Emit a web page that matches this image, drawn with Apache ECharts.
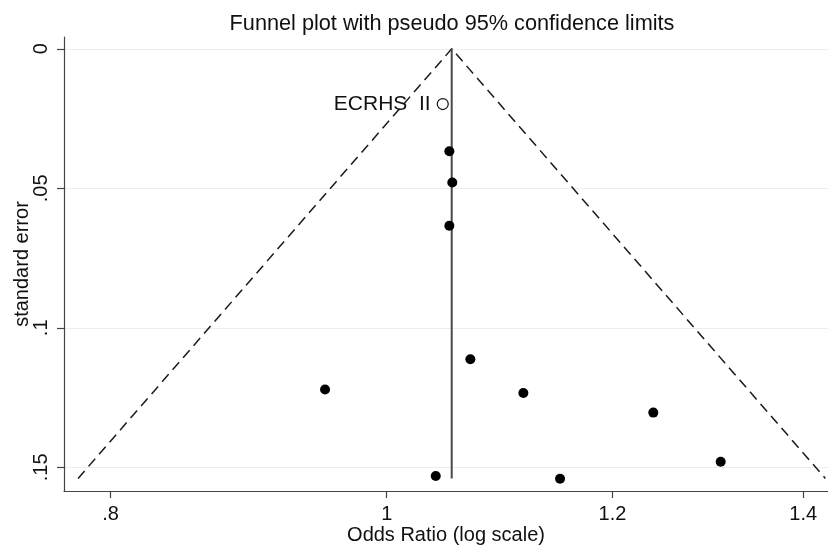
<!DOCTYPE html>
<html>
<head>
<meta charset="utf-8">
<title>Funnel plot</title>
<script src="https://cdn.jsdelivr.net/npm/echarts@6/dist/echarts.min.js"></script>
<style>
  html, body { margin: 0; padding: 0; background: #ffffff; }
  #chart { width: 828px; height: 547px; }
</style>
</head>
<body>
<div id="chart"></div>
<script>
// Study estimates: odds ratio and its standard error
const studyOR = [1.0519, 1.0544, 1.0519, 1.0699, 1.1167, 1.2403, 1.3097, 1.0404, 1.1503, 0.9514];
const studySE = [0.0367, 0.0479, 0.0634, 0.1113, 0.1234, 0.1304, 0.1480, 0.1531, 0.1541, 0.1221];

// Highlighted study (hollow marker)
const highlightName = 'ECRHS  II';
const highlightOR = 1.0463;
const highlightSE = 0.0198;

// Pooled estimate and the largest standard error for the pseudo 95% limits
const pooledOR = 1.0539;
const maxSE = 0.154;
const z95 = 1.96;

// Tick marks
const xTicks = [0.8, 1, 1.2, 1.4];
const yTicks = [0, 0.05, 0.1, 0.15];

const fontFamily = '"Liberation Sans", Arial, Helvetica, sans-serif';
const textColor = '#111111';

const trimZero = v => {
  if (v === 0) return '0';
  const s = String(+v.toFixed(4));
  return s.startsWith('0.') ? s.slice(1) : s;
};

const studyPoints = studyOR.map((or, i) => [or, studySE[i]]);
const funnelLines = [
  [pooledOR * Math.exp(-z95 * maxSE), maxSE],
  [pooledOR, 0],
  [pooledOR * Math.exp(z95 * maxSE), maxSE]
];
const pooledLine = [[pooledOR, 0], [pooledOR, maxSE]];

const chart = echarts.init(document.getElementById('chart'), null, { renderer: 'canvas' });

chart.setOption({
  animation: false,
  backgroundColor: '#ffffff',
  textStyle: { fontFamily: fontFamily, color: textColor },
  title: {
    text: 'Funnel plot with pseudo 95% confidence limits',
    left: 447,
    textAlign: 'center',
    top: 8,
    textStyle: { fontFamily: fontFamily, fontSize: 21.7, fontWeight: 'normal', color: textColor }
  },
  grid: { left: 64, right: 0, top: 37, bottom: 56, containLabel: false, outerBoundsMode: 'none' },
  xAxis: {
    type: 'log',
    logBase: 10,
    min: 0.7705,
    max: 1.4283,
    name: 'Odds Ratio (log scale)',
    nameLocation: 'middle',
    nameGap: 34,
    nameMoveOverlap: false,
    nameTextStyle: { fontFamily: fontFamily, fontSize: 20, color: textColor },
    axisLine: { show: true, onZero: false, lineStyle: { color: '#444444', width: 1.2 } },
    axisTick: { show: true, length: 7, customValues: xTicks, lineStyle: { color: '#444444', width: 1.2 } },
    axisLabel: {
      customValues: xTicks,
      margin: 13,
      fontFamily: fontFamily,
      fontSize: 20,
      color: textColor,
      formatter: v => trimZero(v)
    },
    splitLine: { show: false },
    minorTick: { show: false },
    minorSplitLine: { show: false }
  },
  yAxis: {
    type: 'value',
    inverse: true,
    min: -0.00423,
    max: 0.1585,
    name: 'standard error',
    nameLocation: 'middle',
    nameGap: 32,
    nameMoveOverlap: false,
    nameRotate: 90,
    nameTextStyle: { fontFamily: fontFamily, fontSize: 20, color: textColor },
    axisLine: { show: true, onZero: false, lineStyle: { color: '#444444', width: 1.2 } },
    axisTick: { show: true, length: 7, customValues: yTicks, lineStyle: { color: '#444444', width: 1.2 } },
    axisLabel: {
      customValues: yTicks,
      rotate: 90,
      margin: 13,
      fontFamily: fontFamily,
      fontSize: 20,
      color: textColor,
      formatter: v => trimZero(v)
    },
    splitLine: { show: true, lineStyle: { color: '#e6eff2', width: 1.2 } }
  },
  series: [
    {
      name: 'pseudo 95% limits',
      type: 'line',
      data: funnelLines,
      symbol: 'none',
      silent: true,
      lineStyle: { color: '#1a1a1a', width: 1.5, type: [10, 6] },
      z: 2
    },
    {
      name: 'pooled',
      type: 'line',
      data: pooledLine,
      symbol: 'none',
      silent: true,
      lineStyle: { color: '#4a4a4a', width: 2 },
      z: 3
    },
    {
      name: 'studies',
      type: 'scatter',
      data: studyPoints,
      symbol: 'circle',
      symbolSize: 10,
      itemStyle: { color: '#000000', opacity: 1 },
      z: 4
    },
    {
      name: highlightName,
      type: 'scatter',
      data: [[highlightOR, highlightSE]],
      symbol: 'circle',
      symbolSize: 11,
      itemStyle: { color: '#ffffff', borderColor: '#111111', borderWidth: 1.2, opacity: 1 },
      label: {
        show: true,
        position: 'left',
        distance: 6,
        formatter: highlightName,
        fontFamily: fontFamily,
        fontSize: 21,
        color: textColor
      },
      z: 5
    }
  ]
});
</script>
</body>
</html>
